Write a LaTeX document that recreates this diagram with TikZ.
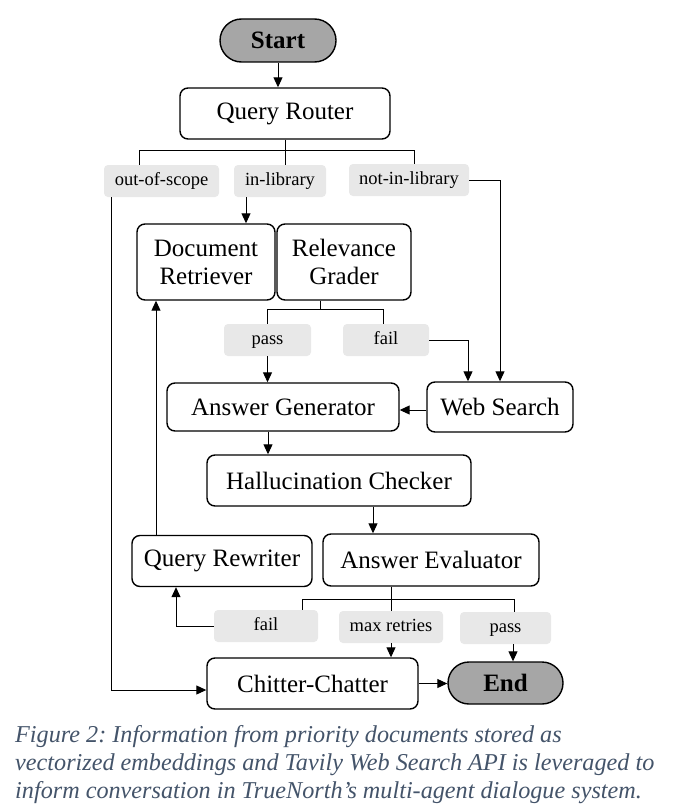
\documentclass[tikz,border=0pt]{standalone}
\usepackage{fontspec}
\setmainfont{Liberation Serif}
\usetikzlibrary{arrows.meta}
\definecolor{capblue}{HTML}{44546A}
\definecolor{lblgray}{HTML}{E8E8E8}
\definecolor{termgray}{HTML}{A6A6A6}
\frenchspacing
\begin{document}
\begin{tikzpicture}[x=1pt,y=-1pt,
  box/.style={draw,line width=1.4pt,rounded corners=8pt,inner sep=0pt,font=\fontsize{25}{28}\selectfont,align=center},
  term/.style={box,fill=termgray,font=\fontsize{25}{28}\selectfont\bfseries},
  lbl/.style={fill=lblgray,rounded corners=4pt,inner sep=0pt,font=\fontsize{18.5}{20}\selectfont,minimum height=32pt,text height=12.5pt,text depth=4pt},
  conn/.style={line width=1pt},
  arr/.style={conn,-{Triangle[length=10pt,width=9pt]}},
  captxt/.style={anchor=base west,inner sep=0pt,text=capblue,font=\fontsize{24.2}{28}\selectfont\itshape}]
\useasboundingbox (0,0) rectangle (672,808);
\fill[white] (0,0) rectangle (672,808);

% nodes
\node[term,minimum width=116pt,minimum height=43pt,rounded corners=21.5pt] (start) at (278,40.5) {Start};
\node[box,minimum width=210pt,minimum height=51pt] (qr) at (285,113.5) {Query Router};
\node[lbl,minimum width=115pt] (oos) at (161.5,181) {out-of-scope};
\node[lbl,minimum width=92pt] (inl) at (280,181) {in-library};
\node[lbl,minimum width=120pt] (nil) at (409,180) {not-in-library};
\node[box,minimum width=138pt,minimum height=76pt] (dr) at (206,262) {Document\\Retriever};
\node[box,minimum width=134pt,minimum height=76pt] (rg) at (344,262) {Relevance\\Grader};
\node[lbl,minimum width=87pt] (pass1) at (267.5,340) {pass};
\node[lbl,minimum width=86pt] (fail1) at (386,340) {fail};
\node[box,minimum width=232pt,minimum height=48pt] (ag) at (283,407) {Answer Generator};
\node[box,minimum width=146pt,minimum height=50pt] (ws) at (500,407) {Web Search};
\node[box,minimum width=264pt,minimum height=51pt] (hc) at (339,480.5) {Hallucination Checker};
\node[box,minimum width=180pt,minimum height=51pt] (qrw) at (222,561) {Query Rewriter};
\node[box,minimum width=216pt,minimum height=52pt] (ae) at (431,560) {Answer Evaluator};
\node[lbl,minimum width=104pt] (fail2) at (266,626) {fail};
\node[lbl,minimum width=104pt] (mr) at (391,627) {max retries};
\node[lbl,minimum width=91pt] (pass2) at (505.5,628) {pass};
\node[box,minimum width=211pt,minimum height=51pt] (cc) at (312.5,683.5) {Chitter-Chatter};
\node[term,minimum width=115pt,minimum height=42pt,rounded corners=21pt] (end) at (505.5,683) {End};

% caption
\node[captxt] (cap1) at (15,742) {Figure 2: Information from priority documents stored as};
\node[captxt] (cap2) at (15,770) {vectorized embeddings and Tavily Web Search API is leveraged to};
\node[captxt] (cap3) at (15,798) {inform conversation in TrueNorth’s multi-agent dialogue system.};

% helper rows
\coordinate (br1) at (0,150);
\coordinate (br2) at (0,309);
\coordinate (br3) at (0,599);

% connectors
\draw[arr] (start.south) -- (start.south |- qr.north);
\draw[conn] (qr.south) -- (qr.south |- inl.north);
\draw[conn] ([xshift=-22.5pt]oos.north) -- ([xshift=-22.5pt]oos.north |- br1) -- ([xshift=5pt]nil.north |- br1) -- ([xshift=5pt]nil.north);
\draw[arr] ([xshift=-50.5pt]oos.south) |- ([yshift=-6.5pt]cc.west);
\draw[arr] ([xshift=-34pt]inl.south) -- ([xshift=-34pt]inl.south |- dr.north);
\draw[arr] (nil.east) -| (ws.north);

\draw[conn] ([xshift=-24pt]rg.south) -- ([xshift=-24pt]rg.south |- br2);
\draw[conn] (pass1.north) -- (pass1.north |- br2) -- ([xshift=-3pt]fail1.north |- br2) -- ([xshift=-3pt]fail1.north);
\draw[arr] (pass1.south) -- (pass1.south |- ag.north);
\draw[arr] (fail1.east) -| ([xshift=-32pt]ws.north);
\draw[arr] ([yshift=-3pt]ws.west) -- ([yshift=-3pt]ws.west -| ag.east);
\draw[arr] ([xshift=-15pt]ag.south) -- ([xshift=-15pt]ag.south |- hc.north);
\draw[arr] ([xshift=34pt]hc.south) -- ([xshift=34pt]hc.south |- ae.north);
\draw[arr] ([xshift=-66pt]qrw.north) -- ([xshift=-66pt]qrw.north |- dr.south);

\draw[conn] ([xshift=-40pt]ae.south) -- (mr.north);
\draw[conn] ([xshift=36pt]fail2.north) -- ([xshift=36pt]fail2.north |- br3) -- ([xshift=8.5pt]pass2.north |- br3) -- ([xshift=8.5pt]pass2.north);
\draw[arr] (fail2.west) -| ([xshift=-46pt]qrw.south);
\draw[arr] (mr.south) -- (mr.south |- cc.north);
\draw[arr] ([xshift=7.5pt]pass2.south) -- ([xshift=7.5pt]pass2.south |- end.north);
\draw[arr] (cc.east) -- (cc.east -| end.west);
\end{tikzpicture}
\end{document}
